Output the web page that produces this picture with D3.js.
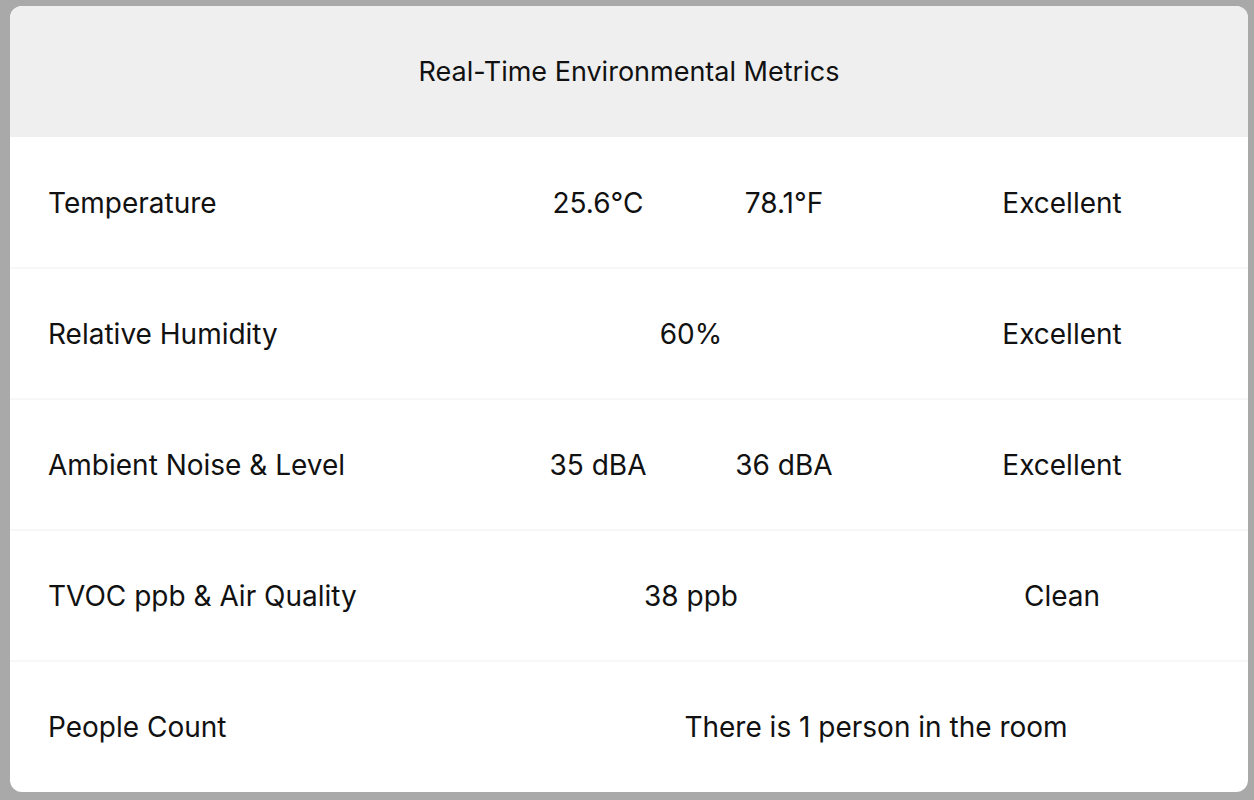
<!DOCTYPE html>
<html><head><meta charset="utf-8">
<script src="https://cdn.jsdelivr.net/npm/d3@7"></script>
<style>body{margin:0;background:#a9a9a9;}svg{display:block;}</style>
</head><body><div id="chart"></div>
<script>
const title = 'Real-Time Environmental Metrics';
const metrics = ['Temperature', 'Relative Humidity', 'Ambient Noise & Level', 'TVOC ppb & Air Quality', 'People Count'];
const valuesA = ['25.6°C', '60%', '35 dBA', '38 ppb', 'There is 1 person in the room'];
const valuesB = ['78.1°F', null, '36 dBA', null, null];
const statuses = ['Excellent', 'Excellent', 'Excellent', 'Clean', null];

const W = 1254, H = 800;
const card = { x: 10, y: 6, w: 1238, h: 786 };
const headerH = 131;
const svg = d3.select('#chart').append('svg').attr('width', W).attr('height', H)
    .style('font-family', 'Inter, "Open Sans", sans-serif');

svg.append('rect').attr('width', W).attr('height', H).attr('fill', '#a9a9a9');
svg.append('clipPath').attr('id', 'cardClip').append('rect')
    .attr('x', card.x).attr('y', card.y).attr('width', card.w).attr('height', card.h).attr('rx', 12);
const g = svg.append('g').attr('clip-path', 'url(#cardClip)');
g.append('rect').attr('x', card.x).attr('y', card.y).attr('width', card.w).attr('height', card.h).attr('fill', '#fff');
g.append('rect').attr('x', card.x).attr('y', card.y).attr('width', card.w).attr('height', headerH).attr('fill', '#efefef');
g.append('text').attr('x', 629).attr('y', card.y + headerH / 2).attr('text-anchor', 'middle')
    .attr('dominant-baseline', 'central').attr('font-size', 27).attr('fill', '#111').text(title);

const y = d3.scaleBand().domain(d3.range(metrics.length))
    .range([card.y + headerH, card.y + card.h]);

const rows = g.selectAll('.row').data(metrics).enter().append('g')
    .attr('transform', (d, i) => `translate(0,${y(i)})`);
rows.filter((d, i) => i > 0).append('line')
    .attr('x1', card.x).attr('x2', card.x + card.w).attr('stroke', '#f0f0f0');

function txt(sel, x, fn, anchor) {
    sel.append('text').attr('x', x).attr('y', y.bandwidth() / 2)
        .attr('text-anchor', anchor).attr('dominant-baseline', 'central')
        .attr('font-size', 28).attr('fill', '#111').text(fn);
}
txt(rows, 48, d => d, 'start');
rows.each(function (d, i) {
    const r = d3.select(this);
    if (statuses[i] === null) txt(r, 876, () => valuesA[i], 'middle');
    else if (valuesB[i] === null) txt(r, 691, () => valuesA[i], 'middle');
    else { txt(r, 598, () => valuesA[i], 'middle'); txt(r, 784, () => valuesB[i], 'middle'); }
    if (statuses[i]) txt(r, 1062, () => statuses[i], 'middle');
});
</script></body></html>
